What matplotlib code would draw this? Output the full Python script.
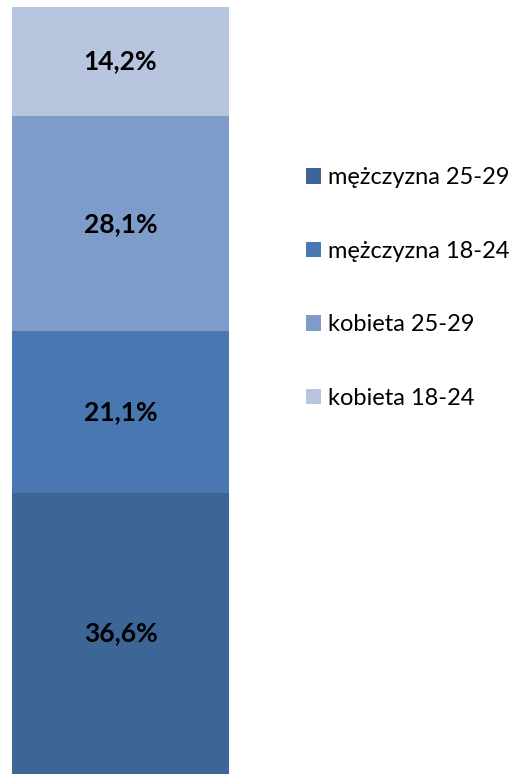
import matplotlib.pyplot as plt
from matplotlib.patches import Patch

plt.rcParams['font.family'] = ['Lato', 'DejaVu Sans']

# segmenty od dołu do góry
categories = ['mężczyzna 25-29', 'mężczyzna 18-24', 'kobieta 25-29', 'kobieta 18-24']
values = [36.6, 21.1, 28.1, 14.2]
labels = ['36,6%', '21,1%', '28,1%', '14,2%']
colors = ['#3D6596', '#4877B1', '#7E9CC9', '#B7C5DF']

fig = plt.figure(figsize=(5.14, 7.75), dpi=100)
ax = fig.add_axes([12 / 514, 1 / 775, 217 / 514, 767 / 775])

bottom = 0
for cat, v, lab, c in zip(categories, values, labels, colors):
    ax.bar(0, v, bottom=bottom, width=1.0, color=c, label=cat)
    ax.text(0, bottom + v / 2, lab, ha='center', va='center',
            fontsize=19, fontweight='bold', color='black')
    bottom += v

ax.set_xlim(-0.5, 0.5)
ax.set_ylim(0, sum(values))
ax.axis('off')

# legenda: najciemniejszy na górze
handles = [Patch(facecolor=c) for c in colors]
fig.legend(handles, categories, loc='upper left',
           bbox_to_anchor=(306 / 514, 1 - 167 / 775), frameon=False,
           borderpad=0, borderaxespad=0,
           fontsize=17, handlelength=0.64, handleheight=0.64,
           handletextpad=0.3, labelspacing=2.23)

fig.savefig('out.png', dpi=100)
